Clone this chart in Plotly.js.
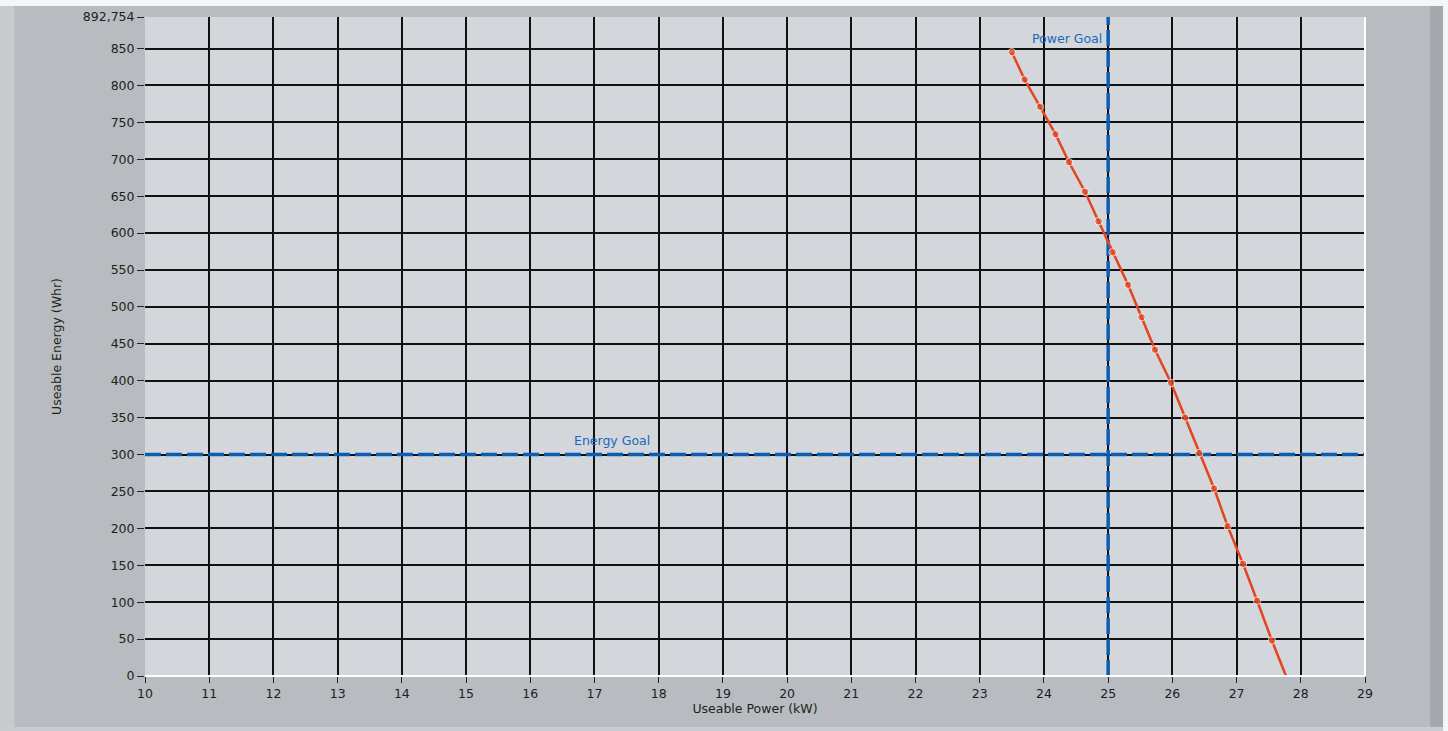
<!DOCTYPE html>
<html>
<head>
<meta charset="utf-8">
<script src="https://cdn.plot.ly/plotly-3.0.1.min.js"></script>
<style>html,body{margin:0;padding:0;background:#b8bcc0;}#chart{width:1448px;height:731px;}</style>
</head>
<body>
<div id="chart"></div>
<script>
// Data
const powerKW = [23.50, 23.70, 23.94, 24.18, 24.39, 24.64, 24.85, 25.07, 25.31, 25.52, 25.73, 25.98, 26.20, 26.42, 26.65, 26.86, 27.10, 27.32, 27.55, 27.77];
const energyWhr = [845, 808, 771, 734, 696, 656, 616, 574, 530, 486, 442, 397, 350, 302, 254, 203, 152, 102, 48, 0];
const powerGoal = 25;
const energyGoal = 300;
const xRange = [10, 29];
const yMax = 892.754;
const yTickVals = [0, 50, 100, 150, 200, 250, 300, 350, 400, 450, 500, 550, 600, 650, 700, 750, 800, 850, 892.754];
const yTickText = ['0', '50', '100', '150', '200', '250', '300', '350', '400', '450', '500', '550', '600', '650', '700', '750', '800', '850', '892,754'];
const xTickVals = [10, 11, 12, 13, 14, 15, 16, 17, 18, 19, 20, 21, 22, 23, 24, 25, 26, 27, 28, 29];

const markerSizes = powerKW.map((_, i) => i === powerKW.length - 1 ? 0 : 7.5);

const goalColor = '#0b5db3';
const traces = [
  {
    x: [xRange[0], xRange[1]], y: [energyGoal, energyGoal],
    mode: 'lines', line: {color: goalColor, width: 3.5, dash: '16px,5px'},
    hoverinfo: 'skip', showlegend: false
  },
  {
    x: [powerGoal, powerGoal], y: [0, yMax],
    mode: 'lines', line: {color: goalColor, width: 3.5, dash: '16px,5px'},
    hoverinfo: 'skip', showlegend: false
  },
  {
    x: powerKW, y: energyWhr,
    mode: 'lines+markers',
    line: {color: '#e2451f', width: 2.5},
    marker: {color: '#e2451f', size: markerSizes},
    showlegend: false
  }
];

const font = {family: 'DejaVu Sans, Liberation Sans, sans-serif', size: 12, color: '#1e1e1e'};

const layout = {
  width: 1448, height: 731,
  margin: {l: 145, r: 83, t: 17, b: 55},
  paper_bgcolor: '#b8bcc0',
  plot_bgcolor: '#d3d6da',
  font: font,
  showlegend: false,
  xaxis: {
    range: xRange, tickvals: xTickVals, ticktext: xTickVals.map(String),
    showgrid: true, gridcolor: '#111111', gridwidth: 2,
    zeroline: false, showline: false,
    ticks: 'outside', ticklen: 6, tickcolor: '#222', tickwidth: 1,
    tickfont: {family: font.family, size: 12.5, color: '#1e1e1e'},
    title: {text: 'Useable Power (kW)', font: {family: font.family, size: 12.5, color: '#1e1e1e'}, standoff: 4},
    fixedrange: true
  },
  yaxis: {
    range: [0, yMax], tickvals: yTickVals, ticktext: yTickText,
    showgrid: true, gridcolor: '#111111', gridwidth: 2,
    zeroline: false, showline: false,
    ticks: 'outside', ticklen: 7, tickcolor: '#222', tickwidth: 1,
    tickfont: {family: font.family, size: 12.5, color: '#1e1e1e'},
    title: {text: 'Useable Energy (Whr)', font: {family: font.family, size: 12.5, color: '#1e1e1e'}, standoff: 18},
    fixedrange: true
  },
  shapes: [
    {type: 'rect', xref: 'paper', yref: 'paper', x0: -0.2, x1: 1.1, y0: 1.0167, y1: 1.03, fillcolor: '#f4f5f6', line: {width: 0}, layer: 'below'},
    {type: 'rect', xref: 'paper', yref: 'paper', x0: -0.2, x1: 1.1, y0: -0.0774, y1: -0.09, fillcolor: '#c9ccd0', line: {width: 0}, layer: 'below'},
    {type: 'rect', xref: 'paper', yref: 'paper', x0: -0.2, x1: -0.107, y0: -0.0774, y1: 1.0167, fillcolor: '#c8cbce', line: {width: 0}, layer: 'below'},
    {type: 'rect', xref: 'paper', yref: 'paper', x0: 1.0533, x1: 1.064, y0: -0.0774, y1: 1.0167, fillcolor: '#a4a8ad', line: {width: 0}, layer: 'below'},
    {type: 'rect', xref: 'paper', yref: 'paper', x0: 1.064, x1: 1.1, y0: -0.09, y1: 1.03, fillcolor: '#f4f5f6', line: {width: 0}, layer: 'below'},
    {type: 'line', xref: 'paper', yref: 'paper', x0: 0, x1: 1, y0: 0, y1: 0, line: {color: '#ffffff', width: 2}},
    {type: 'line', xref: 'paper', yref: 'paper', x0: 1, x1: 1, y0: 0, y1: 1, line: {color: '#ffffff', width: 2}}
  ],
  annotations: [
    {x: powerGoal, y: 850, xref: 'x', yref: 'y', text: 'Power Goal', showarrow: false,
     xanchor: 'right', yanchor: 'bottom', xshift: -4, yshift: 1,
     font: {family: font.family, size: 12.5, color: '#1a66c0'}},
    {x: 16.65, y: energyGoal, xref: 'x', yref: 'y', text: 'Energy Goal', showarrow: false,
     xanchor: 'left', yanchor: 'bottom', yshift: 5,
     font: {family: font.family, size: 12.5, color: '#1a66c0'}}
  ]
};

Plotly.newPlot('chart', traces, layout, {displayModeBar: false, staticPlot: true});
</script>
</body>
</html>
